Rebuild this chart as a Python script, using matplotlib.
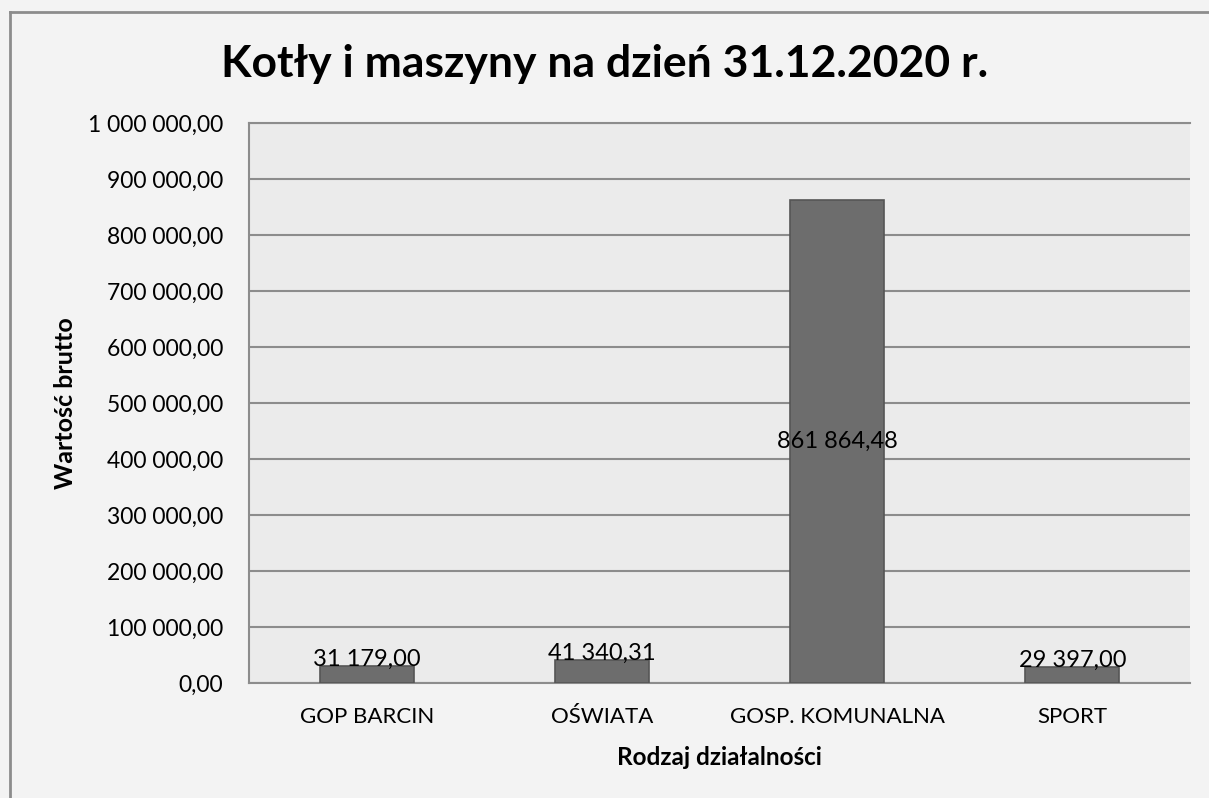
import numpy as np
import matplotlib.pyplot as plt
from matplotlib.lines import Line2D

categories = ['GOP BARCIN', 'OŚWIATA', 'GOSP. KOMUNALNA', 'SPORT']
values = [31179.00, 41340.31, 861864.48, 29397.00]
value_labels = ['31 179,00', '41 340,31', '861 864,48', '29 397,00']
yticks = np.arange(0, 1000001, 100000)


def pl_fmt(v):
    s = f'{v:,.2f}'
    return s.replace(',', ' ').replace('.', ',')


plt.rcParams['font.family'] = ['Lato', 'DejaVu Sans']

fig = plt.figure(figsize=(12.09, 7.98), dpi=100, facecolor='#f3f3f3')
ax = fig.add_axes([249 / 1209, 1 - 683 / 798, (1190 - 249) / 1209, (683 - 123) / 798])
ax.set_facecolor('#ebebeb')

x = np.arange(len(categories))
ax.bar(x, values, width=0.4, color='#6d6d6d', edgecolor='#555555', linewidth=1.2, zorder=3)

for xi, v, lab in zip(x, values, value_labels):
    if v > 200000:
        ax.text(xi, v / 2, lab, ha='center', va='center', fontsize=17, color='black', zorder=4)
    else:
        ax.annotate(lab, (xi, v), xytext=(0, -3), textcoords='offset points',
                    ha='center', va='bottom', fontsize=17, color='black', zorder=4)

ax.set_xlim(-0.5, len(categories) - 0.5)
ax.set_ylim(0, 1000000)
ax.set_yticks(yticks)
ax.set_yticklabels([pl_fmt(v) for v in yticks], fontsize=16.5)
ax.set_xticks(x)
ax.set_xticklabels(categories, fontsize=16)
ax.tick_params(axis='both', length=0)
ax.tick_params(axis='y', pad=18.5)
ax.tick_params(axis='x', pad=17)

ax.grid(axis='y', color='#8c8c8c', linewidth=1.5, zorder=0)
ax.spines['right'].set_visible(False)
for side in ['left', 'top', 'bottom']:
    ax.spines[side].set_color('#8c8c8c')
    ax.spines[side].set_linewidth(1.5)

ax.set_xlabel('Rodzaj działalności', fontsize=17.5, fontweight='bold', labelpad=14)
ax.set_ylabel('Wartość brutto', fontsize=18, fontweight='bold', labelpad=8)

fig.text(0.5, 1 - 64 / 798, 'Kotły i maszyny na dzień 31.12.2020 r.', ha='center', va='center',
         fontsize=32, fontweight='bold')

# outer chart frame (left and top edges visible)
fig.add_artist(Line2D([10 / 1209, 10 / 1209], [0, 1 - 12 / 798], transform=fig.transFigure,
                      color='#8c8c8c', linewidth=2))
fig.add_artist(Line2D([10 / 1209, 1], [1 - 12 / 798, 1 - 12 / 798], transform=fig.transFigure,
                      color='#8c8c8c', linewidth=2))

fig.savefig('out.png', dpi=100, facecolor=fig.get_facecolor())
